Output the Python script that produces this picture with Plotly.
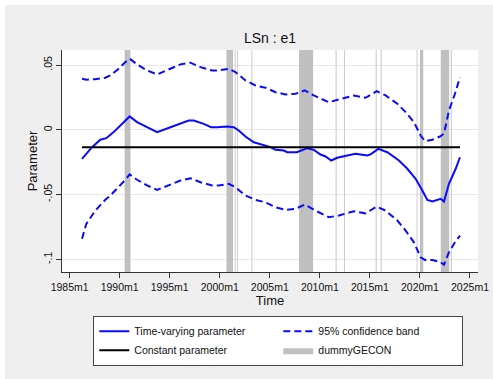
import plotly.graph_objects as go

# Time axis in decimal years (monthly sample, 1986m4 - 2024m1)
t_tvp = [1986.24, 1987.24, 1988.07, 1988.67, 1989.4, 1990.24, 1991.0, 1991.74, 1992.4,
         1993.74, 1995.07, 1996.9, 1997.4, 1998.4, 1999.14, 1999.74, 2000.74, 2001.4,
         2001.9, 2002.57, 2003.4, 2004.24, 2005.07, 2005.57, 2006.4, 2006.74, 2007.7,
         2008.74, 2009.4, 2010.07, 2010.57, 2011.14, 2011.74, 2012.74, 2013.57, 2014.07,
         2014.74, 2015.07, 2015.84, 2016.74, 2017.9, 2018.74, 2019.57, 2020.24, 2020.74,
         2021.24, 2022.07, 2022.4, 2022.9, 2023.57, 2024.0]
tvp = [-0.0224, -0.0134, -0.0077, -0.0065, -0.0018, 0.0046, 0.0103, 0.0059, 0.0033,
       -0.0018, 0.0020, 0.0072, 0.0072, 0.0046, 0.0020, 0.0020, 0.0026, 0.0020,
       -0.0005, -0.0052, -0.0096, -0.0114, -0.0134, -0.0155, -0.0160, -0.0173, -0.0173,
       -0.0142, -0.0155, -0.0191, -0.0206, -0.0237, -0.0216, -0.0199, -0.0185, -0.0190,
       -0.0199, -0.0190, -0.0147, -0.0173, -0.0237, -0.0301, -0.0379, -0.0469, -0.0541,
       -0.0554, -0.0533, -0.0554, -0.0417, -0.0301, -0.0212]

t_band = [1986.24, 1986.67, 1987.57, 1988.57, 1989.07, 1989.9, 1990.57, 1991.0, 1991.74,
          1992.74, 1993.74, 1995.07, 1996.07, 1997.07, 1998.07, 1999.24, 1999.9, 2000.9,
          2001.57, 2002.57, 2003.57, 2004.57, 2005.57, 2006.57, 2007.57, 2008.5, 2009.4,
          2010.9, 2011.9, 2013.4, 2014.57, 2015.67, 2016.57, 2017.74, 2018.57, 2019.4,
          2020.07, 2020.5, 2021.24, 2022.0, 2022.4, 2022.9, 2023.5, 2024.0]
upper = [0.0394, 0.0386, 0.0391, 0.0402, 0.0420, 0.0471, 0.0523, 0.0549, 0.0505,
         0.0458, 0.0427, 0.0471, 0.0505, 0.0518, 0.0484, 0.0458, 0.0458, 0.0471,
         0.0445, 0.0381, 0.0342, 0.0325, 0.0290, 0.0273, 0.0278, 0.0304, 0.0265,
         0.0213, 0.0232, 0.0265, 0.0247, 0.0298, 0.0265, 0.0201, 0.0136, 0.0059,
         -0.0044, -0.0088, -0.0077, -0.0052, -0.0031, 0.0149, 0.0278, 0.0406]
lower = [-0.0842, -0.0726, -0.0624, -0.0540, -0.0508, -0.0444, -0.0386, -0.0345, -0.0386,
         -0.0430, -0.0464, -0.0423, -0.0392, -0.0374, -0.0405, -0.0430, -0.0430, -0.0417,
         -0.0444, -0.0508, -0.0541, -0.0560, -0.0598, -0.0618, -0.0610, -0.0577, -0.0618,
         -0.0675, -0.0662, -0.0629, -0.0645, -0.0593, -0.0624, -0.0701, -0.0778, -0.0869,
         -0.0985, -0.1005, -0.1005, -0.1020, -0.1041, -0.0946, -0.0869, -0.0817]

const_param = -0.0134
const_span = [1986.24, 2024.0]

# dummyGECON = 1 periods (start, end) in decimal years
gecon_start = [1990.50, 2000.67, 2001.50, 2001.75, 2003.17, 2007.92, 2011.58, 2012.42,
               2015.58, 2016.08, 2019.67, 2020.00, 2022.08, 2023.08]
gecon_end = [1991.08, 2001.33, 2001.58, 2001.83, 2003.25, 2009.33, 2011.67, 2012.50,
             2015.67, 2016.17, 2019.75, 2020.33, 2022.92, 2023.17]

x_ticks = [1985, 1990, 1995, 2000, 2005, 2010, 2015, 2020, 2025]
x_ticktext = [f"{y}m1" for y in x_ticks]
y_ticks = [-0.1, -0.05, 0, 0.05]
y_ticktext = ["-.1", "-.05", "0", ".05"]

x_range = [1984.24, 2025.8]
y_range = [-0.1098, 0.0616]

W, H = 493, 379
ML, MR, MT, MB = 62, 15, 50, 107
PW, PH = W - ML - MR, H - MT - MB

FONT = "Liberation Sans, Arial, sans-serif"
BLUE = "#0a0aff"
SHADE = "#c0c0c0"

fig = go.Figure()

# shaded dummy periods as filled rectangles spanning the y range
sx, sy = [], []
for s, e in zip(gecon_start, gecon_end):
    sx += [s, e, e, s, s, None]
    sy += [y_range[0], y_range[0], y_range[1], y_range[1], y_range[0], None]
fig.add_trace(go.Scatter(x=sx, y=sy, mode="lines", fill="toself", fillcolor=SHADE,
                         line=dict(width=0, color=SHADE), name="dummyGECON",
                         legendrank=4, hoverinfo="skip"))

fig.add_trace(go.Scatter(x=t_band, y=upper, mode="lines", name="95% confidence band",
                         line=dict(color=BLUE, width=2, dash="7px,4px"), legendrank=2))
fig.add_trace(go.Scatter(x=t_band, y=lower, mode="lines", showlegend=False,
                         line=dict(color=BLUE, width=2, dash="7px,4px")))
fig.add_trace(go.Scatter(x=t_tvp, y=tvp, mode="lines", name="Time-varying parameter",
                         line=dict(color=BLUE, width=2), legendrank=1))
fig.add_trace(go.Scatter(x=const_span, y=[const_param, const_param], mode="lines",
                         name="Constant parameter", line=dict(color="black", width=2),
                         legendrank=3))

# thin white strips along the left and top edges of the page
def px_x(p):
    return (p - ML) / PW

def px_y(p):
    return (H - MB - p) / PH

for x0, x1, y0, y1 in [(0, 5, 0, H), (0, W, 0, 5)]:
    fig.add_shape(type="rect", xref="paper", yref="paper",
                  x0=px_x(x0), x1=px_x(x1), y0=px_y(y1), y1=px_y(y0),
                  fillcolor="white", line=dict(width=0), layer="below")

fig.update_layout(
    width=W, height=H,
    margin=dict(l=ML, r=MR, t=MT, b=MB, autoexpand=False),
    paper_bgcolor="#efefef", plot_bgcolor="white",
    font=dict(family=FONT, size=10.5, color="#111"),
    title=dict(text="LSn : e1", x=0.5, xref="paper", xanchor="center",
               y=1 - 37.7 / H, yref="container", yanchor="middle",
               font=dict(family=FONT, size=14, color="#111")),
    xaxis=dict(range=x_range, tickvals=x_ticks, ticktext=x_ticktext,
               showgrid=False, zeroline=False, showline=True, linecolor="#333",
               linewidth=1, ticks="outside", ticklen=5, tickcolor="#333",
               title=dict(text="Time", standoff=2)),
    yaxis=dict(range=y_range, tickvals=y_ticks, ticktext=y_ticktext, tickangle=-90,
               showgrid=True, gridcolor="#e8e8e8", gridwidth=1, zeroline=False,
               showline=True, linecolor="#333", linewidth=1, ticks="outside",
               ticklen=5, tickcolor="#333",
               title=dict(text="Parameter", standoff=1)),
    legend=dict(orientation="h", x=px_x(93.3), y=px_y(315.7), xanchor="left",
                yanchor="top", bgcolor="white", bordercolor="#444", borderwidth=1,
                entrywidth=139, font=dict(family=FONT, size=10.5, color="#111"),
                traceorder="normal"),
    showlegend=True,
)

fig.write_html("out.html")
